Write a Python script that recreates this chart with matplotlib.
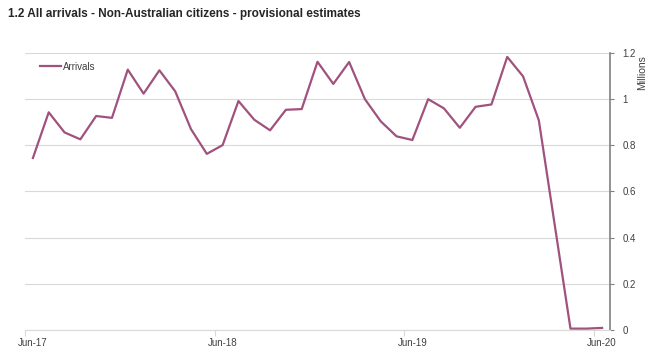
import numpy as np
import matplotlib
matplotlib.use('Agg')
import matplotlib.pyplot as plt

plt.rcParams['font.family'] = ['Liberation Sans', 'DejaVu Sans']

# 数据：2017年6月至2020年6月，单位：百万
months = ['Jun-17', 'Jul-17', 'Aug-17', 'Sep-17', 'Oct-17', 'Nov-17', 'Dec-17',
          'Jan-18', 'Feb-18', 'Mar-18', 'Apr-18', 'May-18', 'Jun-18', 'Jul-18',
          'Aug-18', 'Sep-18', 'Oct-18', 'Nov-18', 'Dec-18', 'Jan-19', 'Feb-19',
          'Mar-19', 'Apr-19', 'May-19', 'Jun-19', 'Jul-19', 'Aug-19', 'Sep-19',
          'Oct-19', 'Nov-19', 'Dec-19', 'Jan-20', 'Feb-20', 'Mar-20', 'Apr-20',
          'May-20', 'Jun-20']
arrivals = [0.745, 0.943, 0.856, 0.826, 0.927, 0.919, 1.128, 1.024, 1.125,
            1.034, 0.870, 0.763, 0.801, 0.992, 0.911, 0.865, 0.954, 0.957,
            1.162, 1.066, 1.161, 1.000, 0.904, 0.839, 0.823, 1.000, 0.960,
            0.876, 0.967, 0.977, 1.183, 1.099, 0.908, 0.457, 0.006, 0.006,
            0.009]
yticks = [0, 0.2, 0.4, 0.6, 0.8, 1.0, 1.2]
ytick_labels = ['0', '0.2', '0.4', '0.6', '0.8', '1', '1.2']
xlabel_idx = [0, 12, 24, 36]

line_color = '#A0527F'
grid_color = '#D9D9D9'
text_color = '#404040'

fig = plt.figure(figsize=(6.6, 3.63), dpi=100)
ax = fig.add_axes([25 / 660, 1 - 330 / 363, 585 / 660, 277 / 363])

x = np.arange(len(months))
ax.plot(x, arrivals, color=line_color, lw=1.6, label='Arrivals')

ax.set_xlim(-0.5, len(months) - 0.5)
ax.set_ylim(0, 1.2)

# 右侧y轴
ax.yaxis.tick_right()
ax.set_yticks(yticks)
ax.set_yticklabels(ytick_labels, fontsize=7, color=text_color)
ax.tick_params(axis='y', length=3, width=0.8, color='#808080', pad=6)
ax.grid(axis='y', color=grid_color, lw=0.8)
ax.set_axisbelow(True)

# x轴：刻度在类别之间（Excel风格）
ax.set_xticks([i - 0.5 for i in xlabel_idx])
ax.set_xticklabels([])
ax.set_xticks(xlabel_idx, minor=True)
ax.set_xticklabels([months[i] for i in xlabel_idx], minor=True, fontsize=7, color=text_color)
ax.tick_params(axis='x', which='major', length=4, color=grid_color)
ax.tick_params(axis='x', which='minor', length=0, pad=6)

for side in ['top', 'left']:
    ax.spines[side].set_visible(False)
ax.spines['bottom'].set_color(grid_color)
ax.spines['right'].set_color('#808080')
ax.spines['right'].set_linewidth(1.2)

fig.text(642 / 660, 1 - 73 / 363, 'Millions', rotation=90, fontsize=7.5,
         color=text_color, ha='center', va='center')

ax.legend(loc='upper left', bbox_to_anchor=(0.01, 1.0), frameon=False,
          fontsize=7, handlelength=2.2, handletextpad=0.2, labelcolor=text_color)

fig.text(8 / 660, 1 - 14 / 363, '1.2 All arrivals - Non-Australian citizens - provisional estimates',
         fontsize=8.5, fontweight='bold', color='#262626', ha='left', va='center')

fig.savefig('out.png', dpi=100, facecolor='white')
